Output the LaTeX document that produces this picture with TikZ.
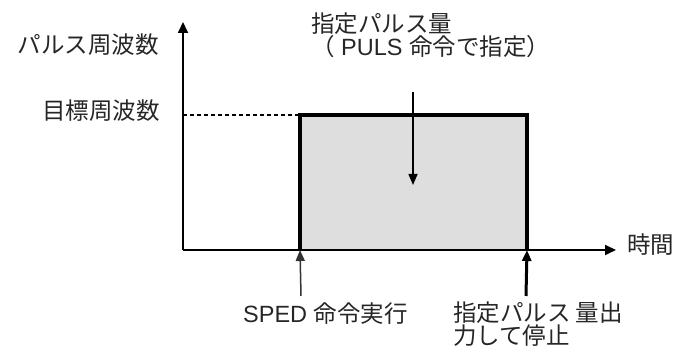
\documentclass[tikz,border=0pt]{standalone}
\usepackage{fontspec}
\setmainfont{Liberation Sans}
\newfontfamily\cjk{Noto Sans CJK JP}
\usetikzlibrary{arrows.meta}
\begin{document}
\begin{tikzpicture}[x=1pt,y=-1pt,
  lbl/.style={font=\fontsize{23.5}{23}\selectfont, inner sep=0pt, text=black!85},
  axis/.style={line width=2pt,-{Triangle[length=11pt,width=10pt]}},
  ptr/.style={line width=1.5pt,-{Triangle[length=11pt,width=9pt]}}]
\useasboundingbox (0,0) rectangle (673,347);
% coordinates
\coordinate (O) at (183,250);
\coordinate (ytop) at (183,22);
\coordinate (xend) at (616,250);
\coordinate (rl) at (300,115);
\coordinate (rr) at (527,115);
\coordinate (rbl) at (300,250);
\coordinate (rbr) at (527,250);
\coordinate (ydash) at (183,115);
% rectangle
\fill[black!13] (rbl) rectangle (rr);
\draw[line width=4.5pt, line join=miter] (rbl) -- (rl) -- (rr) -- (rbr);
\draw[dashed, line width=1.2pt, dash pattern=on 4pt off 3pt] (ydash) -- (rl);
% axes
\draw[axis] (O) -- (ytop);
\draw[axis] (O) -- (xend);
% pointer arrows
\coordinate (dtop) at (413,92);
\coordinate (dbot) at (413,185);
\draw[ptr] (dtop) -- (dbot);
\coordinate (ua) at (301,296);
\coordinate (ub) at (526,296);
\draw[ptr, black!80] (ua) -- (rbl);
\draw[ptr, line width=3pt] (ub) -- (rbr);
% labels
\node[lbl, anchor=east] (ylab) at (159,45) {\cjk パルス周波数};
\node[lbl, anchor=east] (target) at (160,111) {\cjk 目標周波数};
\node[lbl, anchor=west, align=left] (amount) at (311,35) {{\cjk 指定パルス量}\\{\cjk （} PULS {\cjk 命令で指定）}};
\node[lbl, anchor=west] (time) at (627,245) {\cjk 時間};
\node[lbl, anchor=west] (sped) at (243,314) {SPED {\cjk 命令実行}};
\node[lbl, anchor=west, align=left] (stop) at (453,324) {{\cjk 指定パルス 量出}\\{\cjk 力して停止}};
\end{tikzpicture}
\end{document}
